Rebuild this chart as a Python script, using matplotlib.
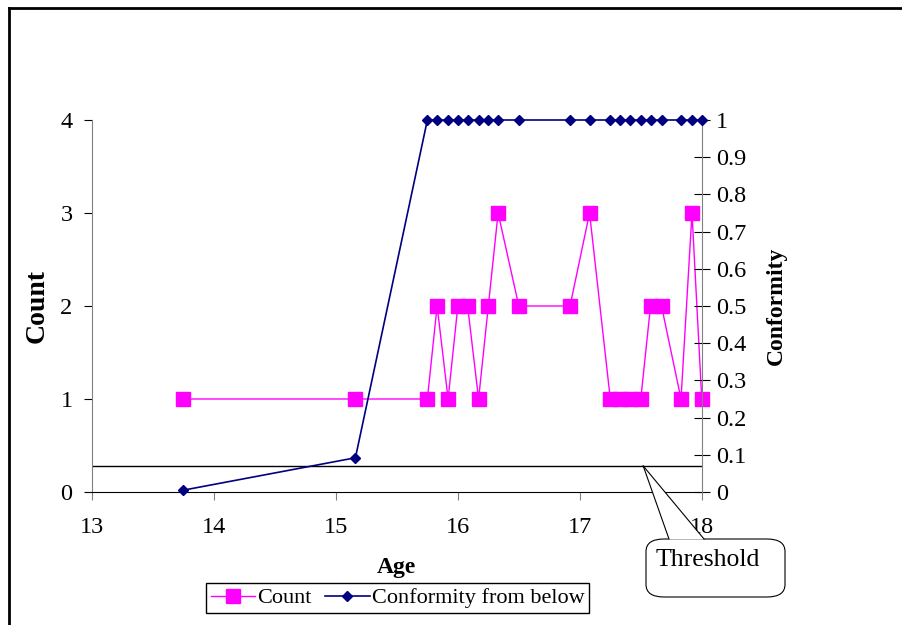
import numpy as np
import matplotlib.pyplot as plt
from matplotlib.patches import FancyBboxPatch, Polygon
from matplotlib.lines import Line2D

plt.rcParams['font.family'] = ['Liberation Serif', 'DejaVu Serif']

# data
age = [13.75, 15.16, 15.75, 15.83, 15.92, 16.0, 16.08, 16.17, 16.25, 16.33, 16.5,
       16.92, 17.08, 17.25, 17.33, 17.41, 17.5, 17.58, 17.67, 17.83, 17.92, 18.0]
count = [1, 1, 1, 2, 1, 2, 2, 1, 2, 3, 2,
         2, 3, 1, 1, 1, 1, 2, 2, 1, 3, 1]
conformity = [0.005, 0.092, 1, 1, 1, 1, 1, 1, 1, 1, 1,
              1, 1, 1, 1, 1, 1, 1, 1, 1, 1, 1]
threshold = 0.28  # on the count axis
x_ticks = [13, 14, 15, 16, 17, 18]
count_ticks = [0, 1, 2, 3, 4]
conf_ticks = [0, 0.1, 0.2, 0.3, 0.4, 0.5, 0.6, 0.7, 0.8, 0.9, 1]
conf_labels = ['0', '0.1', '0.2', '0.3', '0.4', '0.5', '0.6', '0.7', '0.8', '0.9', '1']

fs = 17.5
fig = plt.figure(figsize=(9.02, 6.25), dpi=100)
ax = fig.add_axes([0.102, 0.2128, 0.676, 0.5952])
ax2 = ax.twinx()

# threshold line
ax.plot([13, 18], [threshold, threshold], color='black', lw=1, zorder=1)

l1, = ax.plot(age, count, color='#FF00FF', lw=1, marker='s', markersize=10,
              markeredgecolor='#FF00FF', clip_on=False, zorder=3)
l2, = ax2.plot(age, conformity, color='#000080', lw=1.2, marker='D', markersize=5,
               clip_on=False, zorder=3)

ax.set_xlim(13, 18)
ax.set_ylim(0, 4)
ax2.set_ylim(0, 1)
ax.set_xticks(x_ticks)
ax.set_yticks(count_ticks)
ax2.set_yticks(conf_ticks)
ax2.set_yticklabels(conf_labels)

ax.spines['top'].set_visible(False)
ax2.spines['top'].set_visible(False)
ax2.spines['left'].set_visible(False)
ax2.spines['bottom'].set_visible(False)
ax.spines['right'].set_visible(False)
ax.spines['left'].set_color('#808080')
ax2.spines['right'].set_color('#808080')
ax.spines['bottom'].set_color('black')

ax.tick_params(axis='x', direction='out', length=6, color='#808080', labelsize=fs, pad=12)
ax.tick_params(axis='y', direction='out', length=6, color='black', labelsize=fs, pad=8)
ax2.tick_params(axis='y', direction='inout', length=12, color='black', labelsize=fs, pad=4)

ax.set_xlabel('Age', fontsize=17, fontweight='bold', labelpad=14)
ax.set_ylabel('Count', fontsize=20, fontweight='bold', labelpad=8)
ax2.set_ylabel('Conformity', fontsize=17, fontweight='bold', labelpad=14)

fig.legend([l1, l2], ['Count', 'Conformity from below'], loc='center',
           bbox_to_anchor=(0.441, 0.043), ncol=2, fontsize=16, frameon=True,
           fancybox=False, edgecolor='black', framealpha=1, handlelength=2,
           handletextpad=0.1, columnspacing=0.6, borderpad=0.2)

# callout box "Threshold"
W, H = 902, 625
def fx(px):
    return px / W
def fy(py):
    return 1 - py / H

box = FancyBboxPatch((fx(646), fy(597)), fx(785) - fx(646), fy(539) - fy(597),
                     boxstyle='round,pad=0,rounding_size=0.02', transform=fig.transFigure,
                     facecolor='white', edgecolor='black', lw=0.8, zorder=10)
fig.patches.append(box)
tip = ax.transData.transform((17.52, threshold))
tip = fig.transFigure.inverted().transform(tip)
wedge = Polygon([tip, (fx(669), fy(539.5)), (fx(704), fy(539.5))], closed=True,
                transform=fig.transFigure, facecolor='white', edgecolor='none', zorder=11)
fig.patches.append(wedge)
for bx in (669, 704):
    fig.lines.append(Line2D([tip[0], fx(bx)], [tip[1], fy(539)], transform=fig.transFigure,
                            color='black', lw=0.8, zorder=12))
fig.text(fx(656), fy(560), 'Threshold', fontsize=18.5, va='center', ha='left', zorder=13)

# outer frame
fig.lines.append(Line2D([fx(9), fx(9)], [0, fy(8)], transform=fig.transFigure, color='black', lw=2))
fig.lines.append(Line2D([fx(9), 1], [fy(8), fy(8)], transform=fig.transFigure, color='black', lw=2))

fig.savefig('out.png', dpi=100)
